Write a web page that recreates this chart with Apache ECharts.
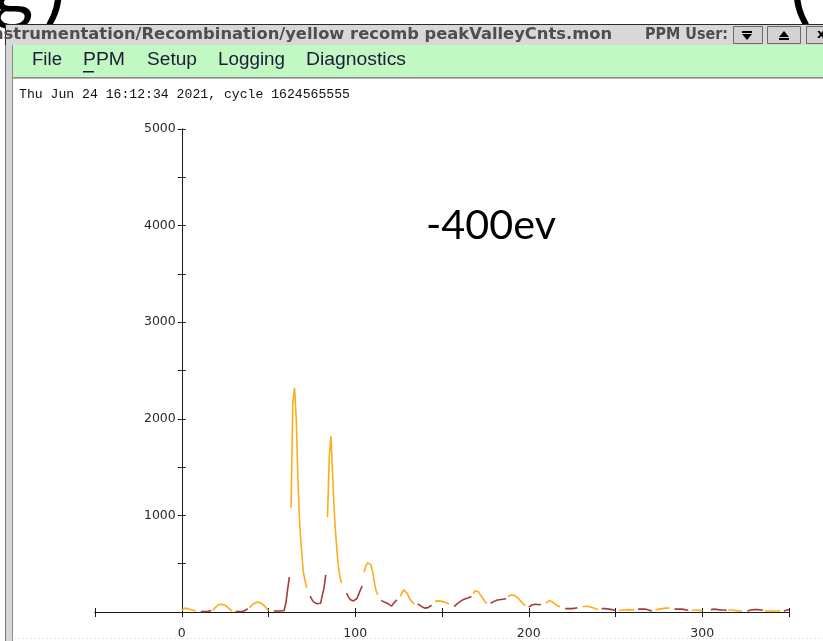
<!DOCTYPE html>
<html>
<head>
<meta charset="utf-8">
<script src="https://cdn.jsdelivr.net/npm/echarts@6/dist/echarts.min.js"></script>
<style>
  html, body { margin: 0; padding: 0; background: #ffffff; }
  #chart { width: 823px; height: 641px; }
</style>
</head>
<body>
<div id="chart"></div>
<script>
// Axis ranges and labelled ticks
const xRange = [-50, 350];
const xStep = 50;
const xTickLabels = [0, 100, 200, 300];
const yRange = [0, 5000];
const yStep = 500;
const yTickLabels = [1000, 2000, 3000, 4000, 5000];

// Peak counts (orange): first bin of each run, then counts per bin
const peakStarts = [0, 18, 39, 63, 84, 105, 126, 146, 168, 188, 210, 231, 252, 273, 294, 315, 336];
const peakCounts = [
  [20, 35, 40, 35, 30, 25, 20, 15, 10],
  [15, 40, 60, 75, 85, 80, 75, 70, 55, 40, 25, 10],
  [45, 65, 80, 90, 100, 105, 100, 90, 75, 55, 35, 15],
  [1080, 2150, 2320, 2000, 1350, 900, 650, 420, 330, 250],
  [980, 1600, 1820, 1400, 1000, 740, 520, 380, 300],
  [410, 470, 510, 530, 490, 420, 310, 220, 180],
  [160, 200, 230, 250, 190, 150, 120, 100, 80],
  [110, 120, 115, 110, 110, 105, 100, 90, 80],
  [190, 220, 235, 210, 180, 160, 130, 100, 90],
  [160, 165, 175, 180, 170, 160, 140, 120, 100, 80, 65],
  [90, 105, 120, 115, 100, 85, 70, 60, 55],
  [55, 65, 60, 70, 55, 60, 45, 40, 30, 25],
  [15, 20, 20, 15, 20, 20, 25, 20, 20, 20],
  [20, 25, 30, 30, 35, 35, 40, 40, 40],
  [15, 20, 20, 25, 20, 15, 10],
  [20, 25, 20, 20, 15, 15, 10, 10, 10],
  [10, 10, 10, 10, 10, 10, 10, 10, 10, 10]
];

// Valley counts (dark red): first bin of each run, then counts per bin
const valleyStarts = [11, 31, 53, 74, 95, 115, 136, 157, 178, 200, 221, 242, 263, 284, 305, 326, 347];
const valleyCounts = [
  [5, 5, 5, 5, 5, 10, 15],
  [5, 5, 5, 5, 5, 8, 20, 35],
  [10, 10, 10, 10, 10, 10, 15, 90, 230, 360],
  [165, 130, 105, 90, 85, 85, 90, 110, 250, 385],
  [195, 160, 130, 120, 115, 110, 140, 185, 230, 270],
  [120, 110, 100, 95, 85, 70, 60, 90, 110, 125],
  [85, 75, 60, 50, 40, 35, 45, 60, 70],
  [55, 75, 90, 100, 115, 125, 135, 130, 145, 150, 160],
  [90, 95, 110, 120, 125, 130, 130, 135, 135, 140],
  [50, 70, 75, 75, 80, 85, 75, 80],
  [35, 30, 35, 40, 35, 45, 40, 45],
  [35, 35, 35, 30, 30, 30, 25, 20, 15],
  [30, 30, 30, 35, 30, 25, 20, 15, 10],
  [30, 30, 30, 30, 30, 25, 25, 20, 15],
  [25, 25, 30, 25, 25, 20, 20, 20, 20, 15],
  [10, 15, 20, 20, 25, 25, 25, 25, 20, 20],
  [10, 15, 20, 25]
];

const menuItems = ['File', 'PPM', 'Setup', 'Logging', 'Diagnostics'];
const menuLeft = [32, 83, 147, 218, 306];
const menuWidth = [30, 42, 50, 67, 100];
const windowTitle = 'nstrumentation/Recombination/yellow recomb peakValleyCnts.mon';
const statusLine = 'Thu Jun 24 16:12:34 2021, cycle 1624565555';
const overlayNote = '-400ev';

const PEAK_COLOR = '#ffab1a';
const VALLEY_COLOR = '#a83a3a';
const AXIS_COLOR = '#1a1a1a';

// Plot area
const GRID = { left: 95, right: 34, top: 129, bottom: 29 };
const CHART_W = 823;
// The value axis sits at x = 0, shifted in from the left edge of the plot
const yAxisShift = -((0 - xRange[0]) / (xRange[1] - xRange[0])) * (CHART_W - GRID.left - GRID.right);

// Turn runs into [bin, count] pairs, with a gap after each run
function runsToLine(starts, runs) {
  const out = [];
  runs.forEach((vals, k) => {
    vals.forEach((v, i) => out.push([starts[k] + i, v]));
    out.push([starts[k] + vals.length, '-']);
  });
  return out;
}

// Text squeezed/stretched to a given width
const measureCtx = document.createElement('canvas').getContext('2d');
function fitText(text, font, left, cy, width, fill) {
  measureCtx.font = font;
  const w = measureCtx.measureText(text).width;
  return {
    type: 'text', x: left, y: cy, scaleX: width / w,
    style: { text: text, font: font, fill: fill, verticalAlign: 'middle', align: 'left' }
  };
}

const chrome = [];
// Fragments of the large heading behind the window
chrome.push({ type: 'text', x: -8, y: -52, style: { text: 'g', font: '80px Lato', fill: '#000' } });
chrome.push({ type: 'text', x: 44, y: -50, style: { text: ')', font: '80px Lato', fill: '#000' } });
chrome.push({ type: 'text', x: 790, y: -50, style: { text: '(', font: '80px Lato', fill: '#000' } });
// Window title bar
chrome.push({ type: 'rect', shape: { x: 5.5, y: 24.5, width: 830, height: 21 }, style: { fill: '#d8d8d8', stroke: '#2a2a2a', lineWidth: 1 } });
chrome.push(fitText(windowTitle, 'bold 15px "DejaVu Sans"', -8, 35, 620, '#4e4e4e'));
chrome.push(fitText('PPM User:', 'bold 15px "DejaVu Sans"', 645, 35, 83, '#4e4e4e'));
// Title bar buttons
[[733, 29], [767, 33], [806, 30]].forEach(b => {
  chrome.push({ type: 'rect', shape: { x: b[0] + 0.5, y: 26.5, width: b[1], height: 17 }, style: { fill: '#d2d2d2', stroke: '#6a6a6a', lineWidth: 1 } });
});
chrome.push({ type: 'polygon', shape: { points: [[742, 34], [752, 34], [747, 40]] }, style: { fill: '#000' } });
chrome.push({ type: 'rect', shape: { x: 742, y: 31, width: 10, height: 2 }, style: { fill: '#000' } });
chrome.push({ type: 'polygon', shape: { points: [[779, 37], [789, 37], [784, 31]] }, style: { fill: '#000' } });
chrome.push({ type: 'rect', shape: { x: 779, y: 38, width: 10, height: 2 }, style: { fill: '#000' } });
chrome.push({ type: 'text', x: 817, y: 35, style: { text: 'x', font: 'bold 13px "DejaVu Sans"', fill: '#000', verticalAlign: 'middle' } });
// Left window frame
chrome.push({ type: 'rect', shape: { x: 5, y: 45, width: 8, height: 600 }, style: { fill: '#d6d6d6' } });
chrome.push({ type: 'line', shape: { x1: 5.5, y1: 45, x2: 5.5, y2: 641 }, style: { stroke: '#7a7a7a', lineWidth: 1 } });
chrome.push({ type: 'line', shape: { x1: 12.5, y1: 45, x2: 12.5, y2: 641 }, style: { stroke: '#8a8a8a', lineWidth: 1 } });
// Menu bar
chrome.push({ type: 'rect', shape: { x: 13, y: 45, width: 810, height: 32 }, style: { fill: '#c2f8c2' } });
chrome.push({ type: 'line', shape: { x1: 13, y1: 77.5, x2: 823, y2: 77.5 }, style: { stroke: '#8c8c8c', lineWidth: 1 } });
chrome.push({ type: 'line', shape: { x1: 13, y1: 78.5, x2: 823, y2: 78.5 }, style: { stroke: '#b4b4b4', lineWidth: 1 } });
menuItems.forEach((m, i) => {
  chrome.push(fitText(m, '18px "Liberation Sans"', menuLeft[i], 60, menuWidth[i], '#1c1c3a'));
});
chrome.push({ type: 'rect', shape: { x: 83, y: 71, width: 11, height: 1.5 }, style: { fill: '#1c1c3a' } });
// Status line
chrome.push(fitText(statusLine, '13px "Liberation Mono"', 19, 95, 331, '#111'));
// Annotation
chrome.push(fitText(overlayNote, '40px Lato', 426, 226, 130, '#000'));
// Faint rule at the bottom
chrome.push({ type: 'line', shape: { x1: 14, y1: 638.5, x2: 823, y2: 638.5 }, style: { stroke: '#e4e4e4', lineWidth: 1, lineDash: [2, 2] } });

const axisFont = { color: '#2a2a2a', fontFamily: 'DejaVu Sans', fontSize: 12.5 };

function xAxisDef(inside) {
  return {
    type: 'value', min: xRange[0], max: xRange[1], interval: xStep, position: 'bottom',
    axisLine: { show: true, onZero: false, lineStyle: { color: AXIS_COLOR, width: 1 } },
    axisTick: { show: true, inside: inside, length: inside ? 4 : 5, lineStyle: { color: AXIS_COLOR, width: 1 } },
    axisLabel: inside ? { show: false } :
      Object.assign({ margin: 15, formatter: v => xTickLabels.includes(v) ? String(v) : '' }, axisFont),
    splitLine: { show: false }
  };
}
function yAxisDef(inside) {
  return {
    type: 'value', min: yRange[0], max: yRange[1], interval: yStep, position: 'left', offset: yAxisShift,
    axisLine: { show: true, onZero: false, lineStyle: { color: AXIS_COLOR, width: 1 } },
    axisTick: { show: true, inside: inside, length: 4, lineStyle: { color: AXIS_COLOR, width: 1 } },
    axisLabel: inside ? { show: false } :
      Object.assign({ margin: 6, formatter: v => yTickLabels.includes(v) ? String(v) : '' }, axisFont),
    splitLine: { show: false }
  };
}

const option = {
  animation: false,
  backgroundColor: '#ffffff',
  grid: Object.assign({ outerBoundsMode: 'none' }, GRID),
  xAxis: [xAxisDef(false), xAxisDef(true)],
  yAxis: [yAxisDef(false), yAxisDef(true)],
  graphic: { elements: chrome },
  series: [
    {
      name: 'peak', type: 'line', xAxisIndex: 0, yAxisIndex: 0,
      data: runsToLine(peakStarts, peakCounts),
      showSymbol: false, symbol: 'none', connectNulls: false,
      lineStyle: { color: PEAK_COLOR, width: 1.6 }
    },
    {
      name: 'valley', type: 'line', xAxisIndex: 0, yAxisIndex: 0,
      data: runsToLine(valleyStarts, valleyCounts),
      showSymbol: false, symbol: 'none', connectNulls: false,
      lineStyle: { color: VALLEY_COLOR, width: 1.6 }
    }
  ]
};

const chart = echarts.init(document.getElementById('chart'), null, { renderer: 'canvas' });
chart.setOption(option);
</script>
</body>
</html>
